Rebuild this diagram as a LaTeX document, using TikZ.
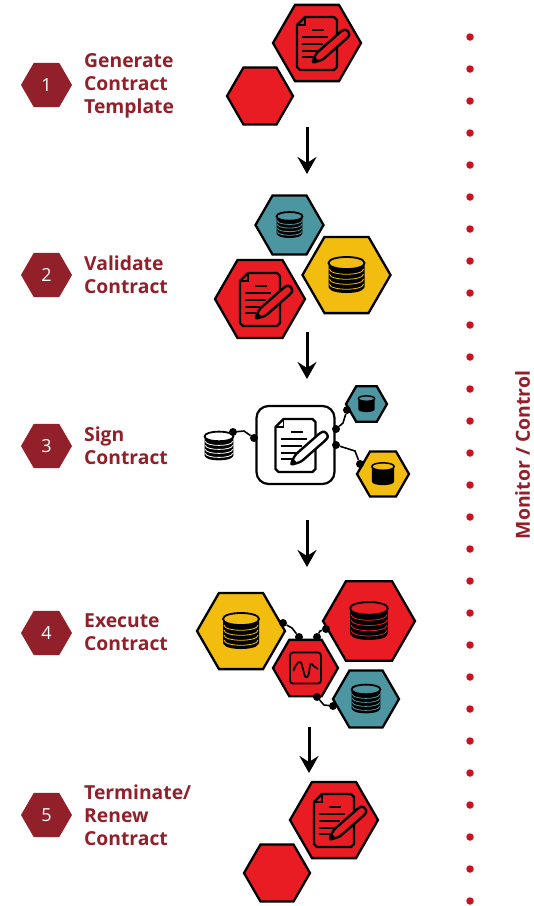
\documentclass[tikz,border=0pt]{standalone}
\usepackage{fontspec}
\setmainfont{Open Sans}
\usetikzlibrary{positioning,arrows.meta,shapes.geometric}
\definecolor{hexred}{HTML}{E91C24}
\definecolor{hexyellow}{HTML}{F2BD0E}
\definecolor{hexteal}{HTML}{4C96A1}
\definecolor{maroon}{HTML}{91202A}
\definecolor{dotred}{HTML}{C8141E}
\tikzset{>=Stealth}
\tikzset{
    hex/.style={regular polygon,regular polygon sides=6,
      draw=black,line width=2.3pt,inner sep=0pt,minimum size=2*#1 pt},
    stephex/.style={regular polygon,regular polygon sides=6,
      fill=maroon,text=white,inner sep=0pt,minimum size=51pt,font=\fontsize{18}{20}\selectfont},
    steplabel/.style={anchor=west,align=left,text=maroon,inner sep=0pt,
      font=\fontsize{19.3}{23}\selectfont\bfseries},
    flow/.style={->,line width=3pt,>={Stealth[length=17pt,width=19pt,inset=6pt]}},
    joint/.style={circle,fill=black,minimum size=8pt,inner sep=0pt},
    wire/.style={line width=1.6pt},
    tick/.style={circle,fill=dotred,minimum size=7.5pt,inner sep=0pt},
    pics/docicon/.style={code={
      \draw [line width=2.4pt,line join=round,fill=#1] (-12,-26) -- (17,-26) -- (20,-23) -- (20,24) -- (17,27)
        -- (-17,27) -- (-20,24) -- (-20,-18) -- cycle;
      \draw [line width=1.5pt] (-20,-18) -- (-12,-18) -- (-12,-26);
      \draw [line width=2.3pt] (-5,-13) -- (7,-13) (-15,-6) -- (11,-6) (-15,1) -- (6,1)
        (-15,8) -- (0,8) (-15,14) -- (-4,14);
      \draw [line width=2.4pt,line join=round,rounded corners=2.5pt,fill=#1] (-5,20) -- (-0.5,10) -- (25,-12.4)
        -- (29,-14) -- (33,-9) -- (31,-5.6) -- (5.5,16.8) -- cycle;
      \fill (-5,20) -- (-3,13) -- (2,18) -- cycle;
    }},
    pics/dbicon/.style={code={
      \fill (-18,-12) .. controls (-18,-4) and (18,-4) .. (18,-12) -- (18,12)
        .. controls (18,20) and (-18,20) .. (-18,12) -- cycle;
      \foreach \yy in {-6,-1,4,9,14}
        \draw [#1,line width=.8pt] (-17,\yy) .. controls (-17,{\yy+7}) and (17,{\yy+7}) .. (17,\yy);
      \draw [line width=1.8pt,fill=#1] (-18,-12) .. controls (-18,-20) and (18,-20) .. (18,-12)
        .. controls (18,-4) and (-18,-4) .. (-18,-12) -- cycle;
    }},
    pics/dbplain/.style={code={
      \fill (-18,-10) -- (18,-10) -- (18,12) .. controls (18,20) and (-18,20) .. (-18,12) -- cycle;
      \draw [line width=1.5pt,fill=#1] (-18,-12) .. controls (-18,-20) and (18,-20) .. (18,-12)
        .. controls (18,-4) and (-18,-4) .. (-18,-12) -- cycle;
    }},
    pics/waveicon/.style={code={
      \draw [line width=1.8pt,rounded corners=3pt] (-15.5,-15.5) rectangle (15.5,15.5);
      \draw [line width=1.7pt] plot [smooth,tension=.7] coordinates
        {(-12,3) (-9.5,-3) (-5,-6) (-2,3) (0,9) (3,7) (5,-4) (8,-2) (12.5,1)};
    }},
}

\begin{document}
\begin{tikzpicture}[x=1pt,y=-1pt]
    \useasboundingbox (0,0) rectangle (534,906);

    % Steps.
    \foreach \n/\yy/\ly/\lbl in {1/85/86/{Generate\\Contract\\Template},2/275/275/{Validate\\Contract},
      3/446/445.5/{Sign\\Contract},4/633/632/{Execute\\Contract},5/815/815/{Terminate/\\Renew\\Contract}} {
      \node [stephex] (step\n) at (46.5,\yy) {\n};
      \node [steplabel] (label\n) at (84,\ly) {\lbl};
    }

    % Generate.
    \node [hex=44,fill=hexred] (gendoc) at (317,43) {};
    \node [hex=33,fill=hexred] (genempty) at (260,96) {};
    \path (gendoc.center) pic {docicon=hexred};

    % Validate.
    \node [hex=34,fill=hexteal] (valteal) at (289.5,225) {};
    \node [hex=44,fill=hexyellow] (valyellow) at (346.5,275) {};
    \node [hex=45,fill=hexred] (valdoc) at (260,299) {};
    \path (valteal.center) pic [scale=.72] {dbicon=hexteal};
    \path (valyellow.center) pic {dbicon=hexyellow};
    \path (valdoc.center) pic {docicon=hexred};

    % Sign.
    \node [draw=black,line width=2.2pt,rounded corners=12pt,fill=white,minimum size=78pt,inner sep=0pt] (signbox) at (295.5,445) {};
    \path (signbox.center) pic {docicon=white};
    \coordinate (signdb) at (219,446);
    \path (signdb) pic [scale=.8] {dbicon=white};
    \node [hex=20.5,fill=hexteal] (signteal) at (366.5,404) {};
    \node [hex=26,fill=hexyellow] (signyellow) at (383,474) {};
    \path (signteal.center) pic [scale=.45] {dbplain=hexteal};
    \path (signyellow.center) pic [scale=.62] {dbplain=hexyellow};
    \node [joint] (ja) at (233,432) {};
    \node [joint] (jb) at (254,438) {};
    \node [joint] (jc) at (336,429) {};
    \node [joint] (jd) at (347,410) {};
    \node [joint] (je) at (336,445) {};
    \node [joint] (jf) at (360,464) {};
    \draw [wire] (ja) -- (244,431) -- (jb);
    \draw [wire] (jc) -- (343,423) -- (jd);
    \draw [wire] (je) -- (355,451) -- (jf);

    % Execute.
    \node [hex=44,fill=hexyellow] (execyellow) at (241,631) {};
    \node [hex=46,fill=hexred] (execred) at (369,621) {};
    \node [hex=33,fill=hexteal] (execteal) at (366,699) {};
    \node [hex=32.5,fill=hexred] (execwave) at (305.5,668) {};
    \path (execyellow.center) pic {dbicon=hexyellow};
    \path (execred.center) pic [scale=1.05] {dbicon=hexred};
    \path (execteal.center) pic [scale=.8] {dbicon=hexteal};
    \path (execwave.center) pic {waveicon};
    \node [joint] (jg) at (283,623) {};
    \node [joint] (jh) at (299,637) {};
    \node [joint] (ji) at (317,637) {};
    \node [joint] (jj) at (326,629) {};
    \node [joint] (jk) at (317,697) {};
    \node [joint] (jl) at (333,706) {};
    \draw [wire] (jg) -- (292,628) -- (jh);
    \draw [wire] (ji) -- (320,631) -- (jj);
    \draw [wire] (jk) -- (324,705) -- (jl);

    % Terminate.
    \node [hex=44,fill=hexred] (termdoc) at (334,820) {};
    \node [hex=33,fill=hexred] (termempty) at (277,873) {};
    \path (termdoc.center) pic {docicon=hexred};

    % Arrows between steps.
    \foreach \i/\xx/\ya/\yb in {1/307/127/174,2/307/332/379,3/307/520/567,4/309/727/773} {
      \coordinate (a\i) at (\xx,\ya);
      \coordinate (b\i) at (\xx,\yb);
      \draw [flow] (a\i) -- (b\i);
    }

    % Monitor line.
    \foreach \i in {0,...,27}
      \node [tick] (tick\i) at (470,{37+32*\i}) {};
    \node [rotate=90,text=maroon,inner sep=0pt,font=\fontsize{19.4}{22}\selectfont\bfseries] (monitor) at (522.5,455) {Monitor / Control};
\end{tikzpicture}
\end{document}
